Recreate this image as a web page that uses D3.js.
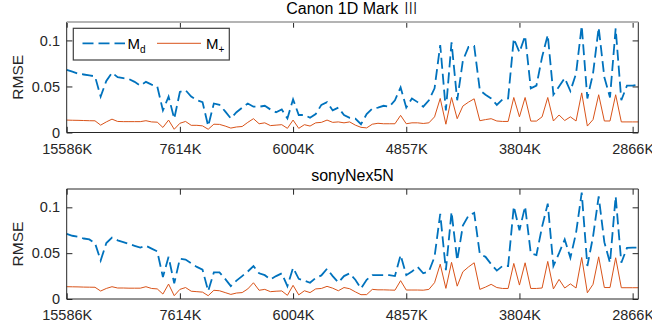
<!DOCTYPE html>
<html>
<head>
<meta charset="utf-8">
<script src="https://cdn.jsdelivr.net/npm/d3@7"></script>
<style>
  body { margin: 0; background: #fff; }
  svg { font-family: "Liberation Sans", Arial, "Noto Sans CJK JP", sans-serif; }
</style>
</head>
<body>
<div id="chart"></div>
<script>
const titles = ["Canon 1D Mark Ⅲ", "sonyNex5N"];
const tickIdx = [1, 21, 41, 61, 81, 101];
const tickLabels = ["15586K", "7614K", "6004K", "4857K", "3804K", "2866K"];
const yTicks = [0, 0.05, 0.1];
const seriesNames = ["M", "M"];
const seriesSubs = ["d", "+"];

const canonMd = [
  0.068, 0.066, 0.064, 0.063, 0.062, 0.061, 0.039, 0.056, 0.065, 0.060,
  0.059, 0.058, 0.055, 0.051, 0.055, 0.052, 0.050, 0.024, 0.039, 0.015,
  0.044, 0.046, 0.039, 0.035, 0.033, 0.007, 0.0315, 0.030, 0.023, 0.0153,
  0.022, 0.027, 0.0315, 0.028, 0.028, 0.029, 0.025, 0.022, 0.025, 0.0153,
  0.036, 0.019, 0.019, 0.016, 0.020, 0.030, 0.033, 0.024, 0.027, 0.019,
  0.016, 0.015, 0.009, 0.020, 0.026, 0.027, 0.029, 0.028, 0.035, 0.049,
  0.027, 0.037, 0.033, 0.028, 0.035, 0.048, 0.095, 0.024, 0.098, 0.035,
  0.078, 0.093, 0.094, 0.046, 0.041, 0.037, 0.030, 0.036, 0.037, 0.102,
  0.087, 0.105, 0.048, 0.051, 0.082, 0.106, 0.041, 0.050, 0.059, 0.045,
  0.064, 0.116, 0.037, 0.064, 0.114, 0.060, 0.038, 0.113, 0.035, 0.051,
  0.051, 0.052
];
const canonMp = [
  0.0135, 0.0133, 0.0132, 0.013, 0.0128, 0.0127, 0.008, 0.0115, 0.0145, 0.012,
  0.0118, 0.0118, 0.0118, 0.0118, 0.0128, 0.0115, 0.0112, 0.0055, 0.0135, 0.0035,
  0.010, 0.012, 0.0078, 0.0078, 0.0072, 0.0035, 0.009, 0.0088, 0.007, 0.0048,
  0.006, 0.0065, 0.011, 0.015, 0.0095, 0.0105, 0.0075, 0.008, 0.0085, 0.0045,
  0.0135, 0.0045, 0.0085, 0.007, 0.0105, 0.011, 0.0135, 0.011, 0.0115, 0.0105,
  0.0115, 0.008, 0.0056, 0.005, 0.009, 0.010, 0.0095, 0.0095, 0.0095, 0.0186,
  0.0095, 0.0105, 0.0105, 0.0098, 0.0105, 0.017, 0.037, 0.009, 0.038, 0.015,
  0.0287, 0.033, 0.0366, 0.0128, 0.014, 0.015, 0.0125, 0.012, 0.012, 0.038,
  0.017, 0.038, 0.0124, 0.0124, 0.017, 0.038, 0.0125, 0.019, 0.013, 0.017,
  0.0125, 0.043, 0.007, 0.014, 0.041, 0.0125, 0.0125, 0.041, 0.0115, 0.0115,
  0.0115, 0.0115
];
const sonyMd = [
  0.071, 0.069, 0.068, 0.066, 0.065, 0.061, 0.042, 0.061, 0.067, 0.064,
  0.062, 0.060, 0.058, 0.056, 0.058, 0.055, 0.052, 0.024, 0.046, 0.017,
  0.044, 0.043, 0.039, 0.035, 0.032, 0.0087, 0.029, 0.029, 0.022, 0.014,
  0.020, 0.025, 0.030, 0.036, 0.028, 0.026, 0.0214, 0.025, 0.028, 0.014,
  0.034, 0.022, 0.020, 0.0177, 0.023, 0.0257, 0.033, 0.025, 0.018, 0.025,
  0.028, 0.021, 0.0116, 0.021, 0.026, 0.026, 0.026, 0.026, 0.025, 0.048,
  0.026, 0.030, 0.035, 0.028, 0.030, 0.046, 0.093, 0.0315, 0.095, 0.042,
  0.080, 0.091, 0.094, 0.049, 0.046, 0.038, 0.031, 0.036, 0.036, 0.101,
  0.075, 0.101, 0.050, 0.048, 0.079, 0.104, 0.036, 0.050, 0.065, 0.045,
  0.072, 0.116, 0.036, 0.068, 0.112, 0.062, 0.0395, 0.112, 0.0395, 0.0558,
  0.056, 0.056
];
const sonyMp = [
  0.0134, 0.0133, 0.0132, 0.013, 0.0129, 0.0128, 0.0087, 0.0115, 0.0134, 0.012,
  0.012, 0.0118, 0.0118, 0.0118, 0.0134, 0.0115, 0.011, 0.0054, 0.0163, 0.0036,
  0.0105, 0.0125, 0.0085, 0.008, 0.0075, 0.0036, 0.0095, 0.009, 0.007, 0.005,
  0.0065, 0.007, 0.011, 0.0177, 0.0095, 0.0105, 0.008, 0.0085, 0.0088, 0.004,
  0.0149, 0.0045, 0.009, 0.007, 0.011, 0.0115, 0.0138, 0.0118, 0.009, 0.0125,
  0.0112, 0.0078, 0.0047, 0.0048, 0.0105, 0.010, 0.010, 0.0098, 0.0096, 0.020,
  0.0098, 0.0098, 0.0098, 0.0096, 0.0105, 0.0178, 0.038, 0.0116, 0.040, 0.014,
  0.0297, 0.035, 0.0395, 0.0105, 0.013, 0.016, 0.0125, 0.0115, 0.0115, 0.0388,
  0.0152, 0.0395, 0.0115, 0.0115, 0.012, 0.041, 0.011, 0.0214, 0.012, 0.0165,
  0.012, 0.0453, 0.0068, 0.016, 0.046, 0.0125, 0.0125, 0.045, 0.0123, 0.0123,
  0.0123, 0.0123
];

const width = 652, height = 327;
const left = 66.7, right = 638.3;
const axisColor = "#262626";
const colors = ["#0072BD", "#D95319"];
const tickLen = 5.7;

const svg = d3.select("#chart")
  .append("svg")
  .attr("width", width)
  .attr("height", height);

const panels = [
  {title: titles[0], md: canonMd, mp: canonMp, top: 22, bottom: 132.5, topEdge: "#b4b4b4", topW: 2},
  {title: titles[1], md: sonyMd, mp: sonyMp, top: 189, bottom: 299, topEdge: axisColor, topW: 1}
];

const xScale = d3.scaleLinear()
  .domain([1, canonMd.length])
  .range([left, right]);

panels.forEach((p, k) => {
  const yScale = d3.scaleLinear()
    .domain([0, 0.12])
    .range([p.bottom, p.top]);

  const g = svg.append("g");

  const line = d3.line()
    .x((d, i) => xScale(i + 1))
    .y(d => yScale(d));

  g.append("path")
    .datum(p.md)
    .attr("d", line)
    .attr("fill", "none")
    .attr("stroke", colors[0])
    .attr("stroke-width", 1.8)
    .attr("stroke-dasharray", "11,5");

  g.append("path")
    .datum(p.mp)
    .attr("d", line)
    .attr("fill", "none")
    .attr("stroke", colors[1])
    .attr("stroke-width", 1);

  // axes, ticks pointing inward
  const xAxis = d3.axisBottom(xScale)
    .tickValues(tickIdx)
    .tickFormat((d, i) => tickLabels[i])
    .tickSizeInner(-tickLen)
    .tickSizeOuter(0)
    .tickPadding(11);

  g.append("g")
    .attr("transform", `translate(0,${p.bottom})`)
    .call(xAxis)
    .call(a => a.select(".domain").remove())
    .call(a => a.selectAll("line").attr("stroke", axisColor))
    .call(a => a.selectAll("text").attr("fill", axisColor).style("font-size", "14.5px"));

  g.append("g")
    .attr("transform", `translate(0,${p.top})`)
    .call(d3.axisTop(xScale).tickValues(tickIdx).tickFormat("").tickSizeInner(-tickLen).tickSizeOuter(0))
    .call(a => a.select(".domain").remove())
    .call(a => a.selectAll("line").attr("stroke", axisColor));

  const yAxis = d3.axisLeft(yScale)
    .tickValues(yTicks)
    .tickFormat(d => d === 0 ? "0" : String(d))
    .tickSizeInner(-tickLen)
    .tickSizeOuter(0)
    .tickPadding(6.7);

  g.append("g")
    .attr("transform", `translate(${left},0)`)
    .call(yAxis)
    .call(a => a.select(".domain").remove())
    .call(a => a.selectAll("line").attr("stroke", axisColor))
    .call(a => a.selectAll("text").attr("fill", axisColor).style("font-size", "14.5px"));

  g.append("g")
    .attr("transform", `translate(${right},0)`)
    .call(d3.axisRight(yScale).tickValues(yTicks).tickFormat("").tickSizeInner(-tickLen).tickSizeOuter(0))
    .call(a => a.select(".domain").remove())
    .call(a => a.selectAll("line").attr("stroke", axisColor));

  // box
  g.append("line")
    .attr("x1", left).attr("x2", right)
    .attr("y1", p.bottom).attr("y2", p.bottom)
    .attr("stroke", axisColor);
  g.append("line")
    .attr("x1", left).attr("x2", left)
    .attr("y1", p.top).attr("y2", p.bottom)
    .attr("stroke", axisColor);
  g.append("line")
    .attr("x1", right).attr("x2", right)
    .attr("y1", p.top).attr("y2", p.bottom)
    .attr("stroke", axisColor);
  g.append("line")
    .attr("x1", left).attr("x2", right)
    .attr("y1", p.top).attr("y2", p.top)
    .attr("stroke", p.topEdge)
    .attr("stroke-width", p.topW);

  // title: the roman numeral comes from a CJK font, as in the original
  const title = svg.append("text")
    .attr("x", (left + right) / 2)
    .attr("y", p.top - 7.6)
    .attr("text-anchor", "middle")
    .attr("fill", "#000")
    .style("font-size", "16px");
  const parts = p.title.split(/(Ⅲ)/).filter(s => s.length);
  parts.forEach(s => {
    const ts = title.append("tspan").text(s);
    if (s === "Ⅲ") ts.style("font-family", "'Noto Sans CJK JP'").style("font-weight", 300);
  });

  svg.append("text")
    .attr("transform", "rotate(-90)")
    .attr("x", -(p.top + p.bottom) / 2)
    .attr("y", 23)
    .attr("text-anchor", "middle")
    .attr("fill", axisColor)
    .style("font-size", "15.5px")
    .text("RMSE");
});

// legend (top panel only)
const legend = svg.append("g");
legend.append("rect")
  .attr("x", 73.3).attr("y", 28.3)
  .attr("width", 156).attr("height", 31.7)
  .attr("fill", "#fff")
  .attr("stroke", "#404040")
  .attr("stroke-width", 1.2);

const legendItems = [
  {x1: 82.5, x2: 125, tx: 127.5, dash: "11,5", w: 1.8},
  {x1: 157, x2: 201, tx: 206, dash: null, w: 1}
];
legendItems.forEach((it, i) => {
  legend.append("line")
    .attr("x1", it.x1).attr("x2", it.x2)
    .attr("y1", 43.3).attr("y2", 43.3)
    .attr("stroke", colors[i])
    .attr("stroke-width", it.w)
    .attr("stroke-dasharray", it.dash);
  const t = legend.append("text")
    .attr("x", it.tx)
    .attr("y", 48.5)
    .attr("fill", "#000")
    .style("font-size", "15px");
  t.append("tspan").text(seriesNames[i]);
  t.append("tspan")
    .attr("dy", 4.5)
    .style("font-size", "10px")
    .text(seriesSubs[i]);
});
</script>
</body>
</html>
